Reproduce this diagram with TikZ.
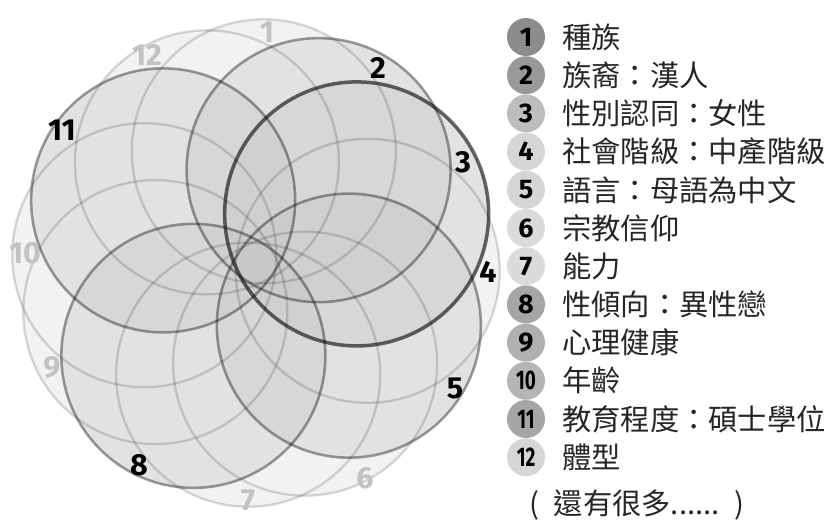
\documentclass[tikz,border=0pt]{standalone}
\usepackage{fontspec}
\usepackage{graphicx}
\newfontfamily\cjk{Noto Sans CJK TC}
\newfontfamily\numfont{Fira Sans}
\usetikzlibrary{positioning}

\definecolor{lightfill}{gray}{0.95}
\definecolor{darkfill}{gray}{0.76}
\definecolor{pale}{gray}{0.76}

\tikzset{
  ring/.style={line width=2pt, draw=black, draw opacity=0.15},
  darkring/.style={line width=2.2pt, draw=black, draw opacity=0.38},
  mainring/.style={line width=3pt, draw=black, draw opacity=0.6},
  circnum/.style={font=\numfont\bfseries\fontsize{26}{26}\selectfont, inner sep=0pt},
  keynum/.style={font=\numfont\bfseries\fontsize{23}{23}\selectfont, inner sep=0pt},
  keytext/.style={font=\cjk\fontsize{25}{25}\selectfont, text=black!85, inner sep=0pt, anchor=west},
}

\begin{document}
\begin{tikzpicture}[x=0.03cm, y=-0.03cm]
  \useasboundingbox (0,0) rectangle (829,531);

  % centres of the twelve circles
  \foreach \k in {1,...,12} {
    \coordinate (c\k) at ({256+112*cos(86-30*(\k-1))}, {263-112*sin(86-30*(\k-1))});
  }

  % light base
  \foreach \k in {1,...,12} {
    \fill[lightfill] (c\k) circle[radius=3.96cm];
  }
  % darker discs
  \foreach \k in {2,3,5,8,11} {
    \fill[darkfill, fill opacity=0.32] (c\k) circle[radius=3.96cm];
  }

  % outlines
  \foreach \k in {1,4,6,7,9,10,12} {
    \draw[ring] (c\k) circle[radius=3.96cm];
  }
  \foreach \k in {2,5,8,11} {
    \draw[darkring] (c\k) circle[radius=3.96cm];
  }
  \draw[mainring] (c3) circle[radius=3.96cm];

  % numbers on the rim
  \foreach \k/\x/\y/\col in {1/267/32/pale, 2/378/68/black, 3/463/162/black,
      4/488/272/black, 5/455/388/black, 6/365/478/pale, 7/248/500/pale,
      8/139/465/black, 9/52/367/pale, 10/25/253/pale, 11/62/130/black, 12/147/55/pale} {
    \node (n\k) at (\x,\y) [circnum, text=\col] {\k};
  }

  % key
  \foreach \i/\shade/\txt in {1/45/種族, 2/40/族裔：漢人, 3/26/性別認同：女性,
      4/16/社會階級：中產階級, 5/16/語言：母語為中文, 6/14/宗教信仰, 7/14/能力,
      8/35/性傾向：異性戀, 9/31/心理健康, 10/29/年齡, 11/35/教育程度：碩士學位, 12/16/體型} {
    \coordinate (d\i) at (526, {37+38.2*(\i-1)});
    \fill[black!\shade] (d\i) circle[radius=19];
    \ifnum\i>9
      \node (k\i) at (d\i) [keynum] {\scalebox{0.7}[1]{\i}};
    \else
      \node (k\i) at (d\i) [keynum] {\i};
    \fi
    \node (t\i) [keytext] at (562, {37+38.2*(\i-1)}) {\txt};
  }
  \node (more) at (529,505) [keytext] {(\kern0.5em 還有很多......\kern0.5em)};
\end{tikzpicture}
\end{document}
